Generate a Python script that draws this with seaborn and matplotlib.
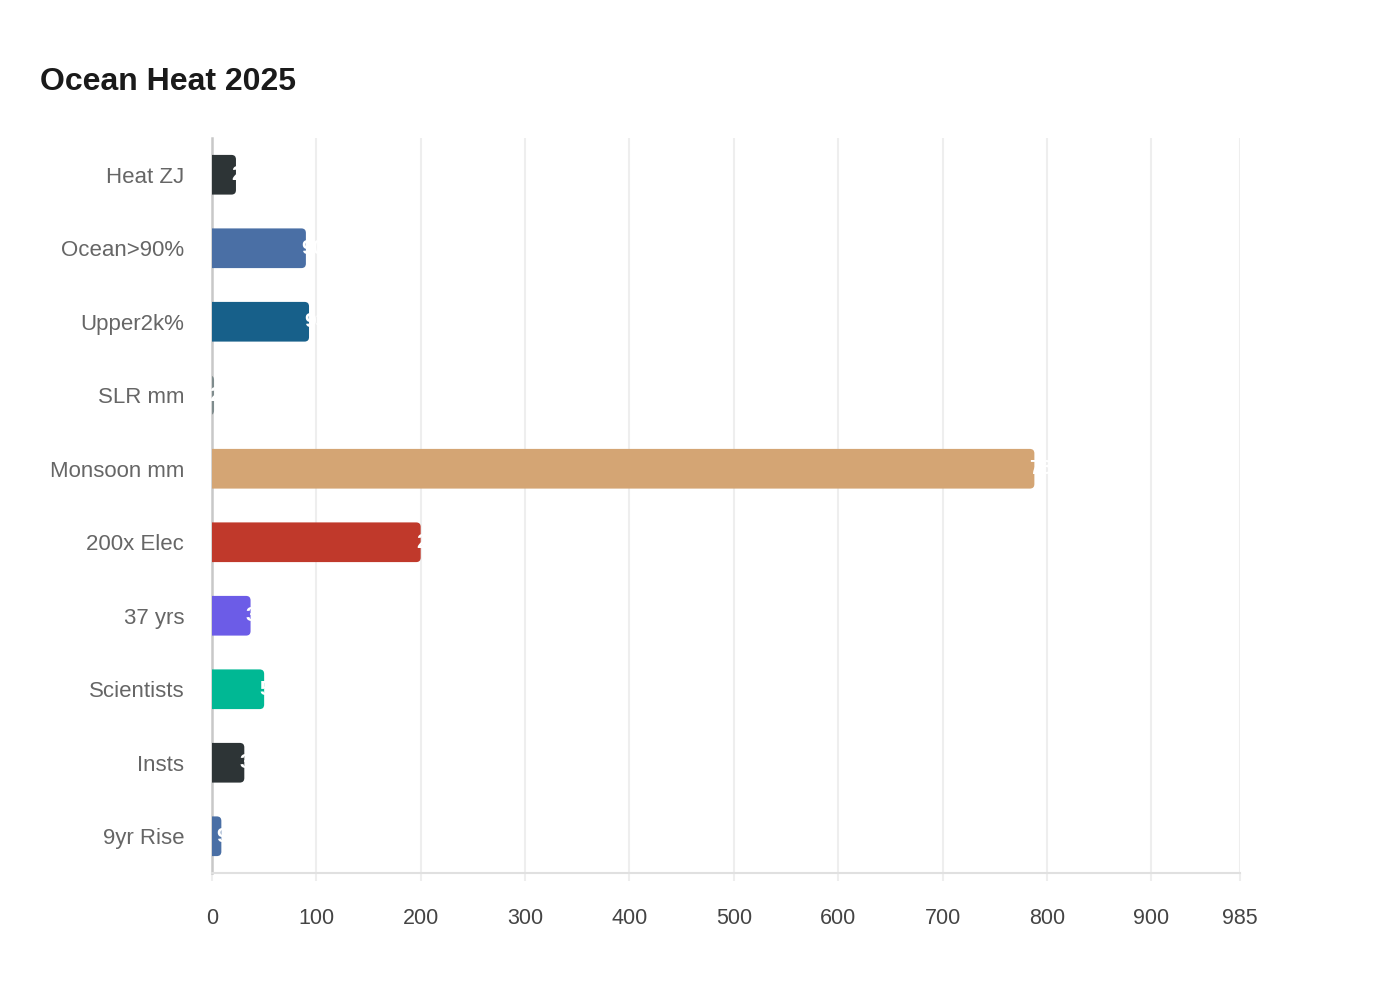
import matplotlib
matplotlib.use("Agg")
import matplotlib.pyplot as plt
from matplotlib.patches import FancyBboxPatch
import seaborn as sns
import pandas as pd

categories = ["Heat ZJ", "Ocean>90%", "Upper2k%", "SLR mm", "Monsoon mm",
              "200x Elec", "37 yrs", "Scientists", "Insts", "9yr Rise"]
values = [23, 90, 93, 2, 788, 200, 37, 50, 31, 9]
colors = ["#2d3436", "#4a6fa5", "#17608a", "#7f8c8d", "#d4a574",
          "#c0392b", "#6c5ce7", "#00b894", "#2d3436", "#4a6fa5"]
xticks = [0, 100, 200, 300, 400, 500, 600, 700, 800, 900, 985]
title = "Ocean Heat 2025"

sns.set_theme(style="white")
plt.rcParams['font.family'] = ['Liberation Sans', 'DejaVu Sans']

df = pd.DataFrame({"cat": categories, "val": values})

fig = plt.figure(figsize=(14, 10), dpi=100)
ax = fig.add_axes([0.1514, 0.127, 0.7343, 0.735])

sns.barplot(data=df, y="cat", x="val", hue="cat", palette=colors,
            legend=False, width=0.54, ax=ax, orient="h", saturation=1)

ax.set_xlim(0, 985)
ax.set_ylim(9.5, -0.5)

# rounded right corners
px_x = 985 / 1028.0
px_y = 10 / 735.0
r_px = 4.5
r = r_px * px_x
for p, c in zip(list(ax.patches), colors):
    x0, y0 = p.get_x(), p.get_y()
    w, h = p.get_width(), p.get_height()
    p.set_visible(False)
    fb = FancyBboxPatch((x0 - r * 2, y0), w + r * 2, h,
                        boxstyle=f"round,pad=0,rounding_size={r}",
                        mutation_aspect=px_y / px_x,
                        facecolor=c, edgecolor="none", zorder=3, clip_on=True)
    ax.add_patch(fb)
    ax.annotate(f"{w:g}", xy=(x0 + w, y0 + h / 2), xytext=(-3.5, 0),
                textcoords="offset points", ha="left", va="center",
                color="white", fontsize=15, fontweight="bold", zorder=4,
                annotation_clip=False)

ax.set_xticks(xticks)
ax.set_xticklabels([str(t) for t in xticks])
ax.grid(axis="x", color="#eeeeee", linewidth=1.5, zorder=0)
ax.set_axisbelow(True)
ax.set_xlabel("")
ax.set_ylabel("")

for s in ["top", "right"]:
    ax.spines[s].set_visible(False)
ax.spines["left"].set_color("#c8c8c8")
ax.spines["left"].set_linewidth(1.8)
ax.spines["bottom"].set_color("#e0e0e0")
ax.spines["bottom"].set_linewidth(1.5)

ax.tick_params(axis="x", colors="#eeeeee", length=6, width=1.5,
               labelcolor="#444444", labelsize=15.5, pad=19, bottom=True)
ax.tick_params(axis="y", length=0, labelcolor="#666666", labelsize=16, pad=20)

fig.text(40 / 1400, 1 - 82 / 1000, title, fontsize=23, fontweight="bold",
         color="#1a1a1a", ha="left", va="center")

fig.savefig("out.png", dpi=100, facecolor="white")
